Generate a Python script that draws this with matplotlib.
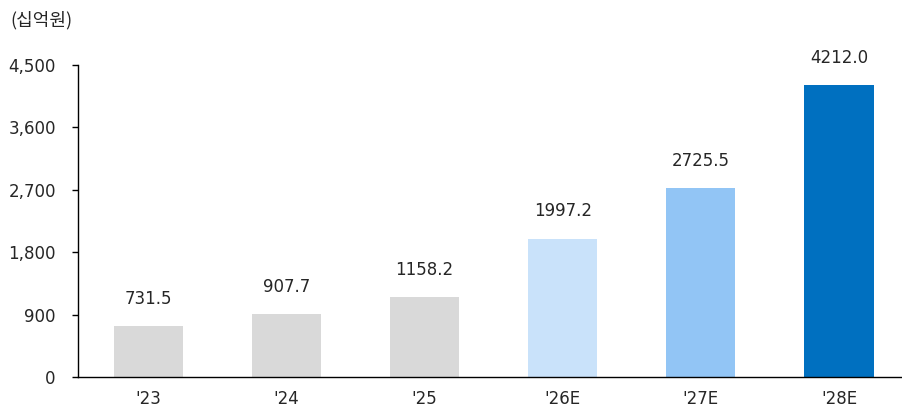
import matplotlib
matplotlib.use('Agg')
import matplotlib.pyplot as plt

plt.rcParams['font.family'] = ['DejaVu Sans', 'Noto Sans CJK KR']

years = ["'23", "'24", "'25", "'26E", "'27E", "'28E"]
values = [731.5, 907.7, 1158.2, 1997.2, 2725.5, 4212.0]
colors = ['#D9D9D9', '#D9D9D9', '#D9D9D9', '#C9E2FA', '#92C5F5', '#0070C0']
yticks = [0, 900, 1800, 2700, 3600, 4500]

fig = plt.figure(figsize=(9.03, 4.09), dpi=100)
ax = fig.add_axes([0.0864, 0.0782, 0.9136, 0.763])

x = range(len(years))
ax.bar(x, values, width=0.5, color=colors)

for i, v in enumerate(values):
    ax.annotate('%.1f' % v, (i, v), xytext=(0, 13), textcoords='offset points',
                ha='center', va='bottom', fontsize=12, color='#262626')

ax.set_xlim(-0.507, 5.463)
ax.set_ylim(0, 4500)
ax.set_yticks(yticks)
ax.set_yticklabels(['{:,}'.format(t) for t in yticks])
ax.set_xticks(list(x))
ax.set_xticklabels(years)

for s in ['top', 'right']:
    ax.spines[s].set_visible(False)
ax.spines['left'].set_linewidth(1)
ax.spines['bottom'].set_linewidth(1)
ax.tick_params(axis='y', length=4, width=1, pad=12, labelsize=12, labelcolor='#262626')
ax.tick_params(axis='x', length=0, pad=9, labelsize=12, labelcolor='#262626')

fig.text(0.011, 0.95, '(십억원)', fontsize=13, color='#262626', va='center', ha='left',
         family=['Noto Sans CJK KR', 'DejaVu Sans'])

fig.savefig('out.png', dpi=100)
